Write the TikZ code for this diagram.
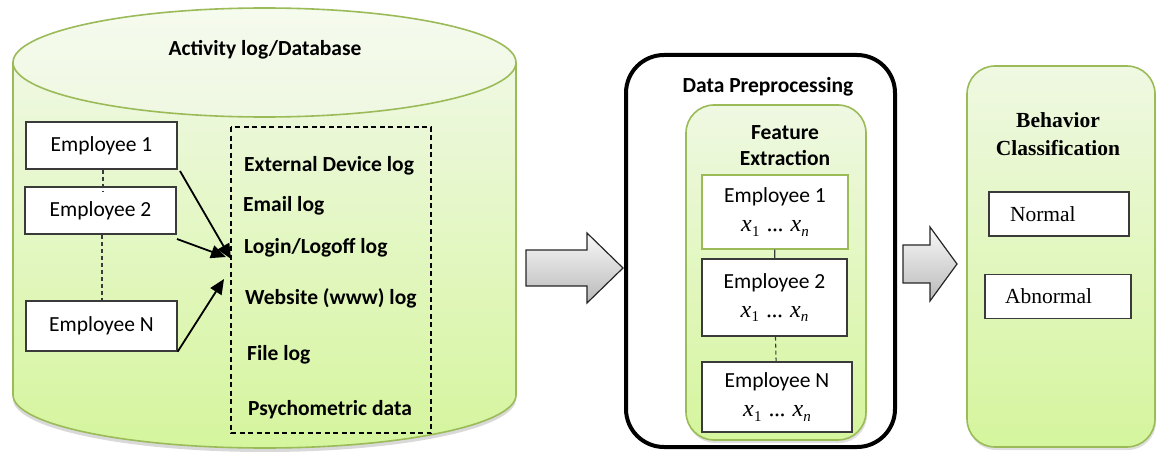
\documentclass[tikz,border=0pt]{standalone}
\usepackage{fontspec}
\setmainfont{Carlito}
\newfontfamily\timesfam{Liberation Serif}
\usetikzlibrary{arrows.meta,shadows}
\definecolor{leafedge}{HTML}{9BBB59}
\definecolor{leaflight}{HTML}{EFF8E2}
\definecolor{leafdeep}{HTML}{D5F59D}
\definecolor{boxedge}{HTML}{3A3A3A}
% feature vector x_1 ... x_n set in an italic serif
\newcommand\xvar[1]{\textit{x}\kern0.3pt\raisebox{-4.5pt}{\fontsize{15}{16}\selectfont #1}}
\newcommand\featvec{{\timesfam\fontsize{24}{26}\selectfont
  \xvar{1}\hspace{7pt}.\kern-0.5pt.\kern-0.5pt.\hspace{7pt}\xvar{\textit{n}}}}
\tikzset{
  txt/.style={font=\fontsize{21.5}{26}\selectfont, inner sep=0pt},
  bold/.style={txt, font=\fontsize{21.5}{26}\selectfont\bfseries},
  empbox/.style={draw=boxedge, line width=1.3pt, fill=white, inner sep=0pt,
    font=\fontsize{21.5}{26}\selectfont},
  featbox/.style={empbox, align=center, font=\fontsize{21.5}{29}\selectfont},
  classbox/.style={draw=boxedge, line width=1.3pt, fill=white, align=left,
    inner ysep=0pt, minimum height=44pt, font=\timesfam\fontsize{21.5}{26}\selectfont},
  greenpanel/.style={draw=leafedge, line width=1.6pt, rounded corners=28pt,
    top color=leaflight, bottom color=leafdeep,
    drop shadow={opacity=0.25, shadow xshift=1pt, shadow yshift=-3pt}},
  feed/.style={line width=1.8pt, -{Triangle[length=15pt,width=13pt]}},
  blockarrow/.style={draw=black!85, line width=1.2pt, top color=gray!5, bottom color=gray!55},
  link/.style={line width=1.1pt, draw=boxedge},
  dashlink/.style={link, dash pattern=on 4pt off 3pt}
}
\begin{document}
\begin{tikzpicture}[x=1pt,y=-1pt]
\useasboundingbox (0,0) rectangle (1157,452);

% ---- database cylinder ----
\path[draw=leafedge, line width=1.6pt, top color=leaflight, bottom color=leafdeep,
      drop shadow={opacity=0.3, shadow xshift=0pt, shadow yshift=-4pt}]
  (13,62.5) -- (13,395) arc[start angle=180, end angle=360, x radius=251.5pt, y radius=53pt]
  -- (516,62.5) -- cycle;
\path[draw=leafedge, line width=1.6pt, top color=leaflight!60!white, bottom color=leaflight]
  (264.5,62.5) ellipse [x radius=251.5pt, y radius=54.5pt];
\node[bold] (dbtitle) at (265,50) {Activity log/Database};

% employees
\node[empbox, minimum width=151pt, minimum height=47pt] (e1) at (101.5,145.5) {Employee 1};
\node[empbox, minimum width=151pt, minimum height=47pt] (e2) at (100.5,210.5) {Employee 2};
\node[empbox, minimum width=151pt, minimum height=50pt] (eN) at (101.5,326) {Employee N};
\draw[dashlink] (e1.south -| 103,0) -- (103,191);
\draw[dashlink] (e2.south -| 102,0) -- (eN.north -| 102,0);

% log sources
\draw[line width=1.3pt, dash pattern=on 5pt off 3.5pt] (231,127) rectangle (431,433);
\node[bold, anchor=west] (lg1) at (244,166) {External Device log};
\node[bold, anchor=west] (lg2) at (243,206) {Email log};
\node[bold, anchor=west] (lg3) at (244,248) {Login/Logoff log};
\node[bold, anchor=west] (lg4) at (245,298) {Website (www) log};
\node[bold, anchor=west] (lg5) at (247,355) {File log};
\node[bold, anchor=west] (lg6) at (248,410) {Psychometric data};

\coordinate (in1) at (231,259);
\coordinate (in2) at (226,257);
\coordinate (inN) at (224,279);
\coordinate (out1) at (180,171);
\coordinate (out2) at (177,239);
\draw[feed] (out1) -- (in1);
\draw[feed] (out2) -- (in2);
\draw[feed] (eN.south east) -- (inN);

% ---- first block arrow ----
\path[blockarrow] (526,250) -- (587,250) -- (587,233) -- (623,268) -- (587,303)
  -- (587,286) -- (526,286) -- cycle;

% ---- preprocessing ----
\node[draw, line width=4pt, rounded corners=38pt, minimum width=269pt,
      minimum height=392pt, inner sep=0pt] (prep) at (760.5,251) {};
\node[bold] (preptitle) at (768,87) {Data Preprocessing};
\node[greenpanel, minimum width=180pt, minimum height=335pt] (feat) at (776,272.5) {};
\node[bold, align=center, font=\fontsize{21.5}{26}\selectfont\bfseries] (feattitle) at (785,146) {Feature\\Extraction};

\node[featbox, draw=leafedge, minimum width=146pt, minimum height=74pt] (f1) at (775,212)
  {Employee 1\\\featvec};
\node[featbox, minimum width=145pt, minimum height=77pt] (f2) at (774.5,297.5)
  {Employee 2\\\featvec};
\node[featbox, minimum width=150pt, minimum height=70pt] (fN) at (777,397)
  {Employee N\\\featvec};
\draw[link] (f1) -- (f2);
\draw[dashlink] (f2) -- (fN);

% ---- second block arrow ----
\path[blockarrow] (903,245) -- (930,245) -- (930,227) -- (957,264) -- (930,301)
  -- (930,283) -- (903,283) -- cycle;

% ---- classification ----
\node[greenpanel, minimum width=188pt, minimum height=381pt] (cls) at (1061,256.5) {};
\node[txt, align=center, font=\timesfam\fontsize{21.5}{28}\selectfont\bfseries] (clstitle)
  at (1058,134) {Behavior\\Classification};
\node[classbox, text width=98pt, inner xsep=21pt] (normal) at (1059,214) {Normal};
\node[classbox, text width=106pt, inner xsep=20pt] (abnormal) at (1058,296.5) {Abnormal};
\end{tikzpicture}
\end{document}
